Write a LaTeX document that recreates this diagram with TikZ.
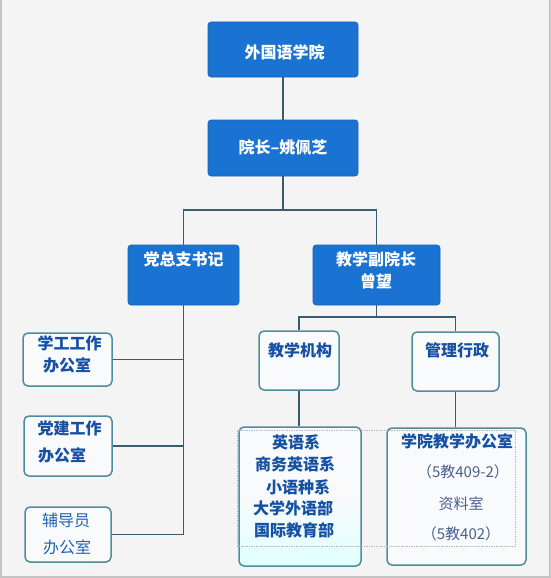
\documentclass[tikz,border=0pt]{standalone}
\usepackage{fontspec}
\setmainfont{Noto Sans CJK SC}
\usetikzlibrary{calc}
\definecolor{bgc}{HTML}{F4F4F4}
\definecolor{framec}{HTML}{C4C4C4}
\definecolor{bluebox}{HTML}{1A73D2}
\definecolor{lightfill}{HTML}{F8FAFB}
\definecolor{lightedge}{HTML}{4F8CA0}
\definecolor{linec}{HTML}{3A5B70}
\definecolor{darktext}{HTML}{1550A5}
\definecolor{midtext}{HTML}{2262B0}
\definecolor{greytext}{HTML}{4A6090}
\tikzset{
  bluenode/.style={rectangle, rounded corners=3pt, fill=bluebox, draw=bluebox!85!black, line width=0.6pt, inner sep=0pt},
  lightnode/.style={rectangle, rounded corners=5pt, fill=lightfill, draw=lightedge, line width=1.5pt, inner sep=0pt},
  wtext/.style={text=white, font=\fontsize{16}{20}\selectfont\bfseries, inner sep=0pt},
  btext/.style={text=darktext, font=\fontsize{16}{20}\selectfont\bfseries, inner sep=0pt},
  mtext/.style={text=midtext, font=\fontsize{16}{20}\selectfont, inner sep=0pt},
  gtext/.style={text=greytext, font=\fontsize{15}{20}\selectfont, inner sep=0pt},
  conn/.style={draw=linec, line width=1.3pt},
}
\begin{document}
\begin{tikzpicture}[x=1pt,y=-1pt]
\useasboundingbox (0,0) rectangle (551,578);
\fill[bgc] (0,0) rectangle (551,578);
\draw[framec, line width=1.6pt] (0.8,0) -- (0.8,577.2) -- (550.2,577.2) -- (550.2,0);

% blue boxes
\node[bluenode, minimum width=150, minimum height=55] (b1) at (283,49.5) {};
\node[bluenode, minimum width=150, minimum height=56] (b2) at (283,148) {};
\node[bluenode, minimum width=111, minimum height=60] (b3) at (183.5,275) {};
\node[bluenode, minimum width=127, minimum height=60] (b4) at (376.5,275) {};

% light boxes
\node[lightnode, minimum width=80, minimum height=59] (l1) at (299,360.5) {};
\node[lightnode, minimum width=87, minimum height=59] (l2) at (455.5,361.5) {};
\node[lightnode, minimum width=122, minimum height=139, top color=lightfill, bottom color=cyan!12!white, middle color=lightfill] (l3) at (300,496.5) {};
\node[lightnode, minimum width=139, minimum height=137] (l4) at (456.5,496.5) {};
\node[lightnode, minimum width=89, minimum height=53] (s1) at (67.5,359.5) {};
\node[lightnode, minimum width=88, minimum height=60] (s2) at (68,446) {};
\node[lightnode, minimum width=86, minimum height=55] (s3) at (68,534.5) {};

% connectors
\coordinate (j1) at (283,210);
\coordinate (j2) at (376.5,317);
\draw[conn] (b1.south) -- (b2.north);
\draw[conn] (b2.south) -- (j1);
\draw[conn] (b3.north) |- (j1) -| (b4.north);
\draw[conn] (b4.south) -- (j2);
\draw[conn] (l1.north) |- (j2) -| (l2.north);
\draw[conn] (l1.south) -- (l1.south |- l3.north);
\draw[conn] (l2.south) -- (l2.south |- l4.north);
\coordinate (trunkend) at (b3.south |- s3.east);
\draw[conn] (b3.south) -- (trunkend);
\draw[conn] (s1.east) -- (s1.east -| b3.south);
\draw[conn] (s2.east) -- (s2.east -| b3.south);
\draw[conn] (s3.east) -- (trunkend);

% texts
\node[wtext] (t1) at (284.5,52) {外国语学院};
\node[wtext] (t2) at (283,147) {院长–姚佩芝};
\node[wtext] (t3) at (183.5,259) {党总支书记};
\node[wtext] (t4a) at (376,259) {教学副院长};
\node[wtext] (t4b) at (376,281) {曾望};
\node[btext] (t5) at (300,350) {教学机构};
\node[btext] (t6) at (457,350) {管理行政};
\node[btext] (t7a) at (69.5,343) {学工工作};
\node[btext] (t7b) at (67,365) {办公室};
\node[btext] (t8a) at (69.5,428) {党建工作};
\node[btext] (t8b) at (62,455) {办公室};
\node[mtext] (t9a) at (66,520) {辅导员};
\node[mtext] (t9b) at (67,547) {办公室};
\node[btext] (e1) at (296,442) {英语系};
\node[btext] (e2) at (295,464) {商务英语系};
\node[btext] (e3) at (298,487) {小语种系};
\node[btext] (e4) at (293,508) {大学外语部};
\node[btext] (e5) at (294,530) {国际教育部};
\node[btext] (o1) at (457,441) {学院教学办公室};
\node[gtext] (o2) at (463,472) {（5教409-2）};
\node[gtext] (o3) at (461,504) {资料室};
\node[gtext] (o4) at (461,534) {（5教402）};

% faint dashed overlay
\draw[gray!55, line width=0.5pt, dash pattern=on 1.5pt off 1pt] (237,430) rectangle (515,546);
\end{tikzpicture}
\end{document}
